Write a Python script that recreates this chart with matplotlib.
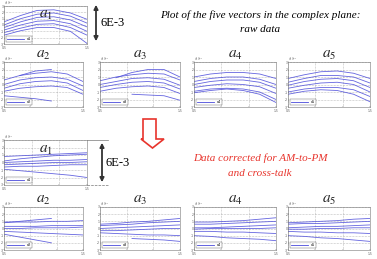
import numpy as np
import matplotlib
matplotlib.use('Agg')
import matplotlib.pyplot as plt
from matplotlib.patches import Polygon, FancyArrowPatch

plt.rcParams['mathtext.fontset'] = 'stix'

# sample positions along the horizontal axis
xs = [0.5, 0.7, 0.9, 1.1, 1.3, 1.5]
nan = np.nan

# raw data (units of 1E-3)
raw_a1 = [[0.5, 1.5, 2.3, 2.4, 1.9, 0.9],
          [0.0, 1.0, 1.7, 1.9, 1.4, 0.3],
          [-0.4, 0.5, 1.2, 1.3, 0.8, -0.3],
          [-0.8, 0.0, 0.6, 0.7, 0.2, -1.0],
          [-1.2, -0.5, 0.1, 0.2, -0.4, -1.6],
          [-1.6, -0.9, -0.4, -0.4, -1.0, -2.9]]
raw_a2 = [[nan, 1.2, 1.8, 2.0, nan, nan],
          [0.6, 1.2, 1.5, 1.7, 1.4, 0.4],
          [0.0, 0.6, 0.9, 1.0, 0.7, -0.2],
          [-0.5, 0.1, 0.4, 0.5, 0.2, -0.8],
          [-0.9, -0.5, -0.3, -0.2, -0.4, -1.3],
          [-1.5, -1.7, -1.9, -2.2, nan, nan]]
raw_a3 = [[nan, 0.9, 1.6, 2.0, 2.0, 1.0],
          [0.5, 1.0, 1.3, 1.5, 1.4, 0.6],
          [0.0, 0.4, 0.8, 0.9, 0.7, -0.1],
          [-0.4, 0.0, 0.3, 0.4, 0.2, -0.6],
          [-0.9, -0.5, -0.3, -0.2, -0.4, -1.2],
          [nan, nan, -1.3, -1.4, -1.5, -2.1]]
raw_a4 = [[1.0, 1.4, 1.6, 1.6, 1.4, 0.8],
          [0.4, 0.8, 1.0, 1.0, 0.7, 0.0],
          [0.0, 0.4, 0.6, 0.6, 0.3, -0.5],
          [-0.4, -0.1, 0.1, 0.0, -0.3, -1.2],
          [-0.9, -0.6, -0.5, -0.6, -1.0, -2.0],
          [-1.1, -0.8, -0.6, -0.8, -1.3, -2.4]]
raw_a5 = [[0.8, 1.3, 1.7, 1.8, 1.5, 0.8],
          [0.3, 0.8, 1.2, 1.2, 1.0, 0.2],
          [-0.1, 0.4, 0.7, 0.8, 0.5, -0.4],
          [-0.5, -0.1, 0.2, 0.3, 0.0, -1.0],
          [-1.0, -0.6, -0.4, -0.4, -0.7, -1.6],
          [-1.3, -0.9, -0.7, -0.8, -1.3, -2.3]]

# corrected data (units of 1E-3)
cor_a1 = [[0.8, 0.9, 1.0, 1.1, 1.2, 1.3],
          [0.2, 0.5, 0.7, 0.9, 1.0, 1.1],
          [0.0, 0.1, 0.2, 0.3, 0.3, 0.4],
          [-0.3, -0.2, -0.1, 0.0, 0.0, 0.1],
          [-0.6, -0.5, -0.5, -0.4, -0.3, -0.3],
          [-0.9, -1.1, -1.3, -1.5, -1.7, -2.0]]
cor_a2 = [[0.8, 1.0, 1.2, 1.4, nan, nan],
          [0.9, 0.9, 0.9, 1.0, 1.0, 1.1],
          [0.3, 0.3, 0.3, 0.4, 0.4, 0.4],
          [0.0, 0.0, 0.1, 0.1, 0.1, 0.2],
          [-0.4, -0.5, -0.6, -0.7, -0.8, -0.9],
          [-0.8, -1.2, -1.6, -2.0, nan, nan]]
cor_a3 = [[0.6, 0.7, 0.9, 1.0, 1.2, 1.4],
          [0.4, 0.5, 0.6, 0.8, 0.9, 1.0],
          [0.0, 0.1, 0.2, 0.3, 0.4, 0.5],
          [-0.3, -0.3, -0.2, -0.1, 0.0, 0.0],
          [-0.6, -0.7, -0.8, -0.9, -0.9, -1.0],
          [nan, nan, -1.4, -1.5, -1.6, -1.8]]
cor_a4 = [[0.9, 0.9, 1.0, 1.1, 1.3, 1.5],
          [0.6, 0.6, 0.7, 0.8, 0.9, 1.0],
          [0.1, 0.1, 0.2, 0.3, 0.4, 0.5],
          [-0.1, 0.0, 0.0, 0.0, 0.0, 0.1],
          [-0.4, -0.4, -0.5, -0.5, -0.6, -0.7],
          [-1.0, -1.1, -1.3, -1.4, -1.5, -1.7]]
cor_a5 = [[0.8, 0.9, 1.0, 1.1, 1.3, 1.4],
          [0.6, 0.7, 0.7, 0.8, 0.9, 1.0],
          [0.1, 0.2, 0.3, 0.3, 0.4, 0.5],
          [-0.1, -0.1, 0.0, 0.0, 0.1, 0.1],
          [-0.4, -0.5, -0.5, -0.6, -0.6, -0.7],
          [-1.0, -1.1, -1.3, -1.4, -1.6, -1.8]]

yticks = [-3, -2, -1, 0, 1, 2, 3]
xticks = [0.5, 0.8333, 1.1667, 1.5]
xticklabels = ['0.5', '', '', '1.5']

W, H = 377.0, 259.0
LINE = '#4a4ada'
RED = '#e8342c'


def box(x0, y0, x1, y1):
    # pixel box (top-left origin) -> figure fraction
    return [x0 / W, 1 - y1 / H, (x1 - x0) / W, (y1 - y0) / H]


def panel(fig, rect, curves, name, title_inside):
    ax = fig.add_axes(box(*rect))
    for c in curves:
        ax.plot(xs, c, color=LINE, lw=0.6, alpha=0.85)
    ax.plot([], [], color=LINE, lw=0.6, label=name)
    ax.set_xlim(0.5, 1.5)
    ax.set_ylim(-3, 3)
    ax.set_xticks(xticks)
    ax.set_xticklabels(xticklabels)
    ax.set_yticks(yticks)
    ax.set_yticklabels([str(v) for v in yticks])
    ax.tick_params(labelsize=2.2, length=1, width=0.3, pad=0.4,
                   direction='in', colors='#555555')
    ax.tick_params(axis='x', pad=1.4)
    ax.grid(True, ls=':', lw=0.4, color='#888888')
    for s in ax.spines.values():
        s.set_linewidth(0.4)
        s.set_color('#777777')
    ax.text(0.0, 1.01, r'$\times10^{-3}$', transform=ax.transAxes,
            fontsize=2.2, color='#555555', va='bottom', ha='left')
    leg = ax.legend(loc='lower left', fontsize=2.4, handlelength=5,
                    borderpad=0.4, frameon=True, fancybox=False)
    leg.get_frame().set_linewidth(0.3)
    leg.get_frame().set_edgecolor('#333333')
    sub = name[1]
    if title_inside:
        ax.text(0.5, 0.78, r'$a_%s$' % sub, transform=ax.transAxes,
                fontsize=11, ha='center', va='center', color='#222222')
    else:
        ax.text(0.5, 1.0, r'$a_%s$' % sub, transform=ax.transAxes,
                fontsize=11, ha='center', va='bottom', color='#222222')
    return ax


fig = plt.figure(figsize=(3.77, 2.59), dpi=100)

# raw data
panel(fig, (4, 6, 87, 44), raw_a1, 'a1', True)
raw_row = [raw_a2, raw_a3, raw_a4, raw_a5]
cols = [(4, 83), (100, 180), (194, 276), (288, 370)]
for i, d in enumerate(raw_row):
    panel(fig, (cols[i][0], 62, cols[i][1], 107), d, 'a%d' % (i + 2), False)

# corrected data
panel(fig, (4, 140, 87, 185), cor_a1, 'a1', True)
cor_row = [cor_a2, cor_a3, cor_a4, cor_a5]
for i, d in enumerate(cor_row):
    panel(fig, (cols[i][0], 207, cols[i][1], 250), d, 'a%d' % (i + 2), False)

# 6E-3 scale arrows
for xa, ya, yb, xt in [(96, 2, 44, 100), (102, 140, 185, 106)]:
    fig.patches.append(FancyArrowPatch(
        (xa / W, 1 - ya / H), (xa / W, 1 - yb / H), transform=fig.transFigure,
        arrowstyle='<|-|>', mutation_scale=6, lw=1.3, color='#333333'))
    fig.text(xt / W, 1 - (ya + yb) / 2 / H, '6E-3', fontsize=9,
             family='Liberation Serif', va='center', ha='left')

# extension lines from corrected a1 to its arrow
fig.lines.append(plt.Line2D([87 / W, 108 / W], [1 - 140 / H, 1 - 140 / H],
                            transform=fig.transFigure, color='#777777', lw=0.5))
fig.lines.append(plt.Line2D([87 / W, 108 / W], [1 - 185 / H, 1 - 185 / H],
                            transform=fig.transFigure, color='#777777', lw=0.5, ls='--'))

# red hollow arrow
pts = [(143, 119), (156, 119), (156, 139), (164, 139), (152.5, 148),
       (141, 139), (143, 139)]
fig.patches.append(Polygon([(px / W, 1 - py / H) for px, py in pts], closed=True,
                           transform=fig.transFigure, fill=False,
                           edgecolor=RED, lw=1.2))

fig.text(260 / W, 1 - 15 / H, 'Plot of the five vectors in the complex plane:',
         fontsize=8, style='italic', family='Liberation Serif', ha='center', va='center')
fig.text(260 / W, 1 - 29 / H, 'raw data',
         fontsize=8, style='italic', family='Liberation Serif', ha='center', va='center')
fig.text(260 / W, 1 - 158 / H, 'Data corrected for AM-to-PM',
         fontsize=8, style='italic', family='Liberation Serif', ha='center', va='center',
         color=RED)
fig.text(260 / W, 1 - 173 / H, 'and cross-talk',
         fontsize=8, style='italic', family='Liberation Serif', ha='center', va='center',
         color=RED)

fig.savefig('out.png', dpi=100)
